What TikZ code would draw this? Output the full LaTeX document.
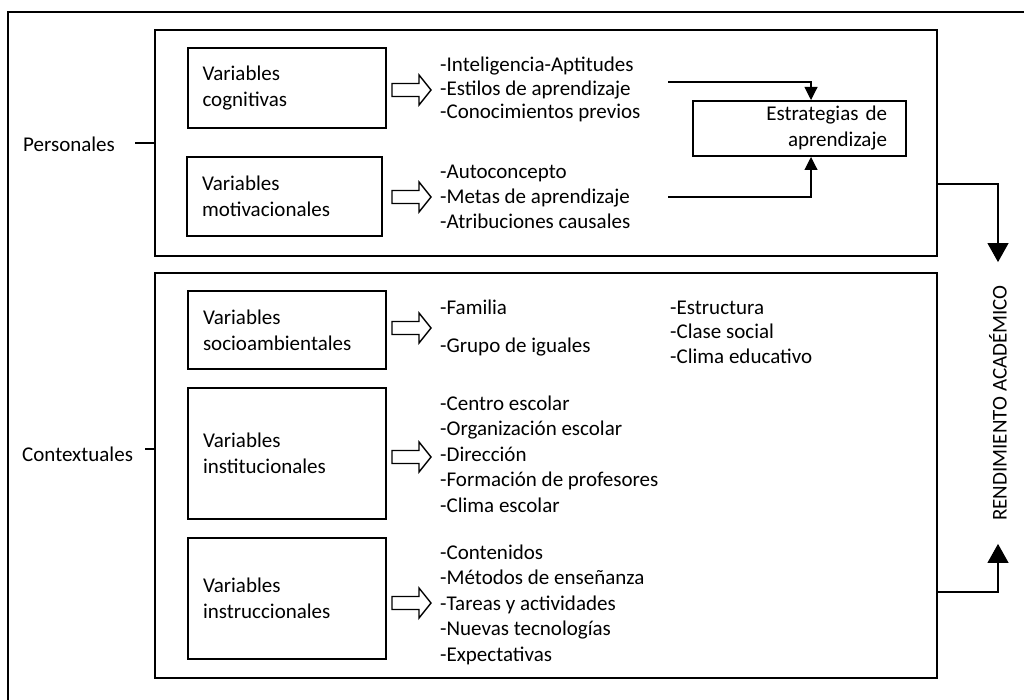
\documentclass[tikz,border=0pt]{standalone}
\usepackage{fontspec}
\setmainfont{Carlito}
\usetikzlibrary{arrows.meta}
\begin{document}
\begin{tikzpicture}[x=1pt,y=-1pt,
  every node/.style={font=\fontsize{21}{26}\selectfont},
  group/.style={draw, line width=2pt, minimum width=782pt, inner sep=0pt},
  varbox/.style={draw, line width=2pt, align=left, text width=168pt,
    inner xsep=15pt, inner ysep=0pt, minimum width=198pt},
  item/.style={anchor=base west, inner sep=0pt},
  label/.style={anchor=base west, inner sep=0pt},
  conn/.style={line width=1.1pt},
  smalltip/.style={conn, -{Triangle[length=13pt,width=13pt]}},
  bigtip/.style={conn, -{Triangle[length=19pt,width=21pt]}},
  blockarr/.pic={\draw[line width=1.4pt, line join=miter]
    (0,-6.5) -- (27,-6.5) -- (27,-15) -- (39,0) -- (27,15) -- (27,6.5) -- (0,6.5) -- cycle;}
]
\useasboundingbox (0,0) rectangle (1024,700);

% outer frame
\draw[line width=2.2pt] (8,702) -- (8,12) -- (1026,12);

% the two groups of variables
\node[group, minimum height=226pt] (pers) at (546,143) {};
\node[group, minimum height=405pt] (cont) at (546,475.5) {};

\node[label] (perslab) at (23,152) {Personales};
\node[label] (ctxlab) at (22,461) {Contextuales};
\draw[conn] ([xshift=20pt,yshift=0pt]perslab.east |- pers.west) -- (pers.west);
\coordinate (ctxtick) at (145,449);
\draw[conn] (ctxtick) -- (cont.west |- ctxtick);

% personal variables
\node[varbox, minimum height=80pt] (cog) at (286.5,88) {Variables\\cognitivas};
\node[varbox, minimum height=79pt, text width=165pt, minimum width=195pt] (mot) at (284.5,196.5) {Variables\\motivacionales};

\pic at (392,90) {blockarr};
\pic at (392,197) {blockarr};

\foreach \t [count=\i from 0] in {-Inteligencia-Aptitudes, -Estilos de aprendizaje, -Conocimientos previos}
  \node[item] (cog\i) at (440,72+23.5*\i) {\t};
\foreach \t [count=\i from 0] in {-Autoconcepto, -Metas de aprendizaje, -Atribuciones causales}
  \node[item] (mot\i) at (440,179+25*\i) {\t};

\node[draw, line width=2pt, minimum width=213pt, minimum height=55pt,
  text width=175pt, inner xsep=19pt, inner ysep=0pt, align=right] (estr) at (799.5,128.5)
  {Estrategias de\\aprendizaje};

\coordinate (c1) at (668,82);
\coordinate (c2) at (668,197);
\draw[smalltip] (c1) -| ([xshift=11.5pt]estr.north);
\draw[smalltip] (c2) -| ([xshift=11.5pt]estr.south);

% contextual variables
\node[varbox, minimum height=78pt] (soc) at (287,330) {Variables\\socioambientales};
\node[varbox, minimum height=131pt] (inst) at (287,453.5) {Variables\\institucionales};
\node[varbox, minimum height=121pt] (instr) at (287,598.5) {Variables\\instruccionales};

\pic at (392,328) {blockarr};
\pic at (392,457) {blockarr};
\pic at (392,603) {blockarr};

\node[item] (soc0) at (440,314) {-Familia};
\node[item] (soc1) at (440,352) {-Grupo de iguales};
\foreach \t [count=\i from 0] in {-Estructura, -Clase social, -Clima educativo}
  \node[item] (fam\i) at (670,314+24.5*\i) {\t};
\foreach \t [count=\i from 0] in {-Centro escolar, -Organización escolar, -Dirección, -Formación de profesores, -Clima escolar}
  \node[item] (inst\i) at (440,410+25.6*\i) {\t};
\foreach \t [count=\i from 0] in {-Contenidos, -Métodos de enseñanza, -Tareas y actividades, -Nuevas tecnologías, -Expectativas}
  \node[item] (instr\i) at (440,559+25.6*\i) {\t};

% academic performance
\node[rotate=90, inner xsep=23pt, inner ysep=0pt] (rend) at (998,403) {RENDIMIENTO ACADÉMICO};
\draw[bigtip] ([yshift=-41pt]pers.east) -| (rend.east);
\draw[bigtip] ([yshift=-116.5pt]cont.east) -| (rend.west);
\end{tikzpicture}
\end{document}
